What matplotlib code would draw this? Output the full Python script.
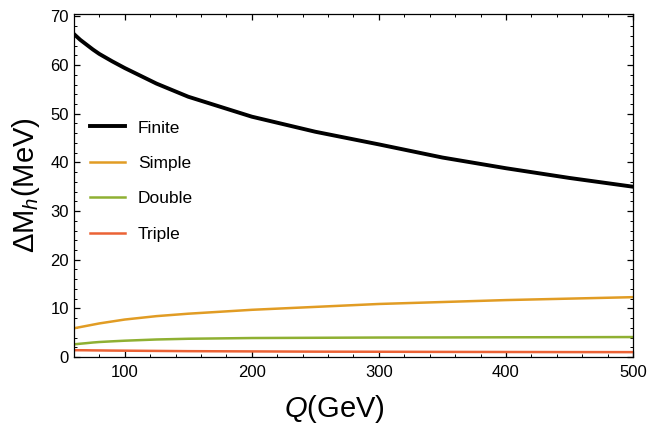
import numpy as np
import matplotlib
matplotlib.use("Agg")
import matplotlib.pyplot as plt
from matplotlib.ticker import MultipleLocator

plt.rcParams['font.family'] = ['Liberation Sans', 'DejaVu Sans']
plt.rcParams['mathtext.fontset'] = 'custom'
plt.rcParams['mathtext.rm'] = 'Liberation Sans'
plt.rcParams['mathtext.it'] = 'Liberation Sans:italic'

# values
Q = [60, 65, 70, 75, 80, 90, 100, 125, 150, 200, 250, 300, 350, 400, 450, 500]
finite = [66.4, 65.2, 64.2, 63.2, 62.3, 60.8, 59.4, 56.2, 53.5, 49.4, 46.3, 43.7, 41.0, 38.8, 36.8, 35.0]
simple = [5.9, 6.15, 6.4, 6.65, 6.9, 7.3, 7.7, 8.4, 8.9, 9.7, 10.3, 10.9, 11.3, 11.7, 12.0, 12.3]
double = [2.6, 2.73, 2.85, 2.98, 3.08, 3.22, 3.35, 3.6, 3.75, 3.9, 3.95, 4.0, 4.02, 4.05, 4.07, 4.1]
triple = [1.4, 1.39, 1.38, 1.36, 1.35, 1.32, 1.3, 1.25, 1.2, 1.15, 1.1, 1.08, 1.05, 1.03, 1.01, 1.0]

fig = plt.figure(figsize=(6.48, 4.25), dpi=100)
ax = fig.add_axes([0.114, 0.16, 0.863, 0.807])

ax.plot(Q, finite, color="black", lw=2.8, label="Finite")
ax.plot(Q, simple, color="#E19C24", lw=1.8, label="Simple")
ax.plot(Q, double, color="#8FB032", lw=1.8, label="Double")
ax.plot(Q, triple, color="#EB6235", lw=1.8, label="Triple")

ax.set_xlim(60, 500)
ax.set_ylim(0, 70.5)
ax.xaxis.set_major_locator(MultipleLocator(100))
ax.xaxis.set_minor_locator(MultipleLocator(20))
ax.yaxis.set_major_locator(MultipleLocator(10))
ax.yaxis.set_minor_locator(MultipleLocator(2))
ax.tick_params(which="both", direction="in", top=True, right=True, labelsize=12)
ax.tick_params(axis="x", pad=6)
ax.tick_params(which="major", length=4.5, width=0.9)
ax.tick_params(which="minor", length=2.5, width=0.7)
for s in ax.spines.values():
    s.set_linewidth(0.9)

ax.set_xlabel("$Q$(GeV)", fontsize=21)
ax.xaxis.set_label_coords(0.465, -0.105)
ax.set_ylabel("$\\Delta$M$_{h}$(MeV)", fontsize=21, labelpad=6)

ax.legend(loc="upper left", bbox_to_anchor=(0.029, 0.69), frameon=False,
          fontsize=12.5, handlelength=2.0, labelspacing=1.17, borderpad=0,
          borderaxespad=0, handletextpad=0.75)

plt.savefig("out.png", dpi=100)
